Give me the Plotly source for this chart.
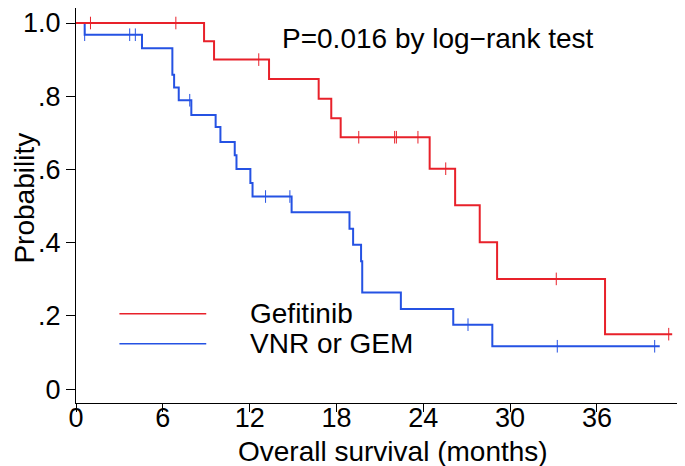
import plotly.graph_objects as go

# Kaplan-Meier steps (months, survival)
gef_time = [0, 8.85, 9.54, 13.34, 16.77, 17.64, 18.29, 24.44, 26.2, 27.9, 29.1, 36.56, 41.2]
gef_surv = [1.0, 0.950, 0.900, 0.847, 0.793, 0.740, 0.688, 0.602, 0.502, 0.401, 0.301, 0.150, 0.150]
gef_cens_time = [1.0, 6.9, 12.63, 19.54, 22.02, 22.14, 23.63, 25.55, 33.19, 40.96]
gef_cens_surv = [1.0, 1.0, 0.900, 0.688, 0.688, 0.688, 0.688, 0.602, 0.301, 0.150]

vnr_time = [0, 0.6, 4.56, 6.66, 6.78, 7.1, 7.97, 9.65, 9.98, 10.97, 11.09, 12.05, 12.2,
            14.9, 18.9, 19.15, 19.7, 19.78, 22.45, 26.07, 28.77, 40.34]
vnr_surv = [1.0, 0.968, 0.931, 0.859, 0.824, 0.789, 0.749, 0.716, 0.675, 0.639, 0.601, 0.563, 0.526,
            0.483, 0.438, 0.394, 0.349, 0.264, 0.219, 0.176, 0.117, 0.117]
vnr_cens_time = [0.6, 3.71, 4.1, 7.86, 13.1, 14.78, 27.09, 33.26, 39.99]
vnr_cens_surv = [0.968, 0.968, 0.968, 0.789, 0.526, 0.526, 0.176, 0.117, 0.117]

x_ticks = [0, 6, 12, 18, 24, 30, 36]
y_ticks = [0, 0.2, 0.4, 0.6, 0.8, 1.0]
y_ticktext = ["0", ".2", ".4", ".6", ".8", "1.0"]

RED = "#e8212a"
BLUE = "#2552e3"
FONT = "Arial, Liberation Sans, sans-serif"

fig = go.Figure()
fig.add_trace(go.Scatter(x=vnr_time, y=vnr_surv, mode="lines", line=dict(color=BLUE, width=2, shape="hv")))
fig.add_trace(go.Scatter(x=vnr_cens_time, y=vnr_cens_surv, mode="markers",
                         marker=dict(symbol="line-ns", size=9, line=dict(color=BLUE, width=1))))
fig.add_trace(go.Scatter(x=gef_time, y=gef_surv, mode="lines", line=dict(color=RED, width=2, shape="hv")))
fig.add_trace(go.Scatter(x=gef_cens_time, y=gef_cens_surv, mode="markers",
                         marker=dict(symbol="line-ns", size=9, line=dict(color=RED, width=1))))

# legend drawn by hand: long line samples with a gap before the text
fig.add_shape(type="line", x0=3, x1=9, y0=0.206, y1=0.206, line=dict(color=RED, width=1.5))
fig.add_shape(type="line", x0=3, x1=9, y0=0.124, y1=0.124, line=dict(color=BLUE, width=1.5))
fig.add_annotation(x=11.9, y=0.206, text="Gefitinib", showarrow=False, xanchor="left",
                   font=dict(size=28, color="black", family=FONT))
fig.add_annotation(x=11.9, y=0.124, text="VNR or GEM", showarrow=False, xanchor="left",
                   font=dict(size=28, color="black", family=FONT))
fig.add_annotation(x=25.0, y=0.959, text="P=0.016 by log\u2212rank test", showarrow=False,
                   font=dict(size=28, color="black", family=FONT))

fig.add_annotation(xref="paper", yref="paper", x=0.515, y=-0.167, xanchor="center", yanchor="bottom",
                   text="Overall survival (months)", showarrow=False,
                   font=dict(size=28, color="black", family=FONT))
fig.add_annotation(xref="paper", yref="paper", x=-0.083, y=0.52, xanchor="center", yanchor="middle",
                   textangle=-90, text="Probability", showarrow=False,
                   font=dict(size=28, color="black", family=FONT))

fig.update_layout(
    width=685, height=466,
    margin=dict(l=68, r=2, t=0, b=71, autoexpand=False),
    paper_bgcolor="white", plot_bgcolor="white",
    showlegend=False,
    font=dict(family=FONT, size=27, color="black"),
    xaxis=dict(range=[0, 42.5], tickvals=x_ticks, ticks="outside", ticklen=8, tickcolor="black",
               showline=True, linecolor="black", linewidth=1, showgrid=False, zeroline=False,
               automargin=False, ticklabelstandoff=-17, tickfont=dict(size=27)),
    yaxis=dict(range=[-0.038, 1.041], tickvals=y_ticks, ticktext=y_ticktext, ticks="outside",
               ticklen=9, tickcolor="black", showline=True, linecolor="black", linewidth=1,
               showgrid=False, zeroline=False, automargin=False, tickfont=dict(size=27)),
)

fig.write_html("out.html")
